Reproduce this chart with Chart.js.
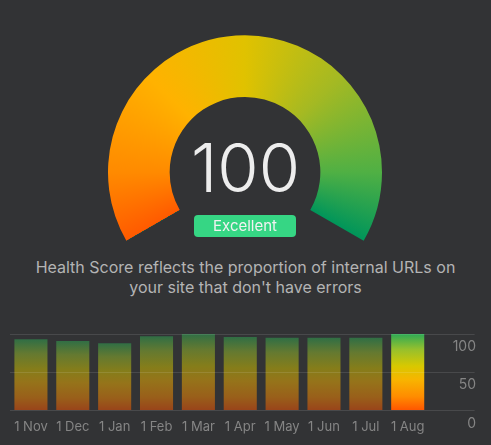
<!DOCTYPE html>
<html>
<head>
<meta charset="utf-8">
<script src="https://cdn.jsdelivr.net/npm/chart.js@4.4.1/dist/chart.umd.min.js"></script>
<style>
  html, body { margin: 0; padding: 0; background: #323335; }
  body { position: relative; width: 491px; height: 445px; overflow: hidden; font-family: Inter, "Noto Sans", sans-serif; }
  #gauge { position: absolute; left: 108px; top: 35px; }
  #score { position: absolute; left: 0; width: 491px; top: 134px; height: 67px; line-height: 67px; text-align: center;
           font-size: 67px; font-weight: 300; color: #ededed; }
  #badge { position: absolute; left: 194px; top: 215px; width: 102px; height: 22px; line-height: 22px; border-radius: 4px;
           background: #36d684; color: #f2f2f2; font-size: 15px; text-align: center; }
  #desc { position: absolute; left: 0; width: 491px; top: 257px; line-height: 20px; font-size: 16px; color: #b4b4b4; text-align: center; }
  #bars { position: absolute; left: 0; top: 320px; }
</style>
</head>
<body>
<canvas id="gauge" width="274" height="206"></canvas>
<div id="score"></div>
<div id="badge"></div>
<div id="desc">Health Score reflects the proportion of internal URLs on<br>your site that don't have errors</div>
<canvas id="bars" width="491" height="125"></canvas>
<script>
// Datos
const score = 100;
const scoreLabel = 'Excellent';
const months = ['1 Nov', '1 Dec', '1 Jan', '1 Feb', '1 Mar', '1 Apr', '1 May', '1 Jun', '1 Jul', '1 Aug'];
const history = [93, 91, 88, 97, 100, 96, 95, 95, 95, 100];
const yTicks = [0, 50, 100];

Chart.defaults.font.family = 'Inter, "Noto Sans", sans-serif';

document.getElementById('score').textContent = score;
document.getElementById('badge').textContent = scoreLabel;

// Gauge
function gaugeColor(context) {
    if (context.dataIndex !== 0) return '#4a4b4e';
    const chart = context.chart;
    const area = chart.chartArea;
    if (!area) return '#e0c000';
    const ctrl = chart.getDatasetMeta(0).controller;
    const cx = (area.left + area.right) / 2 + (ctrl.offsetX || 0);
    const cy = (area.top + area.bottom) / 2 + (ctrl.offsetY || 0);
    const g = chart.ctx.createConicGradient(Math.PI * 5 / 6, cx, cy);
    g.addColorStop(0, '#ff5a00');
    g.addColorStop(0.083, '#ff8a00');
    g.addColorStop(0.208, '#ffb200');
    g.addColorStop(0.333, '#e0c200');
    g.addColorStop(0.458, '#a4b923');
    g.addColorStop(0.583, '#50b044');
    g.addColorStop(0.667, '#00955a');
    g.addColorStop(1, '#00955a');
    return g;
}

new Chart(document.getElementById('gauge'), {
    type: 'doughnut',
    data: {
        datasets: [{
            data: [score, 100 - score],
            backgroundColor: gaugeColor,
            borderWidth: 0
        }]
    },
    options: {
        responsive: false,
        animation: false,
        rotation: -120,
        circumference: 240,
        cutout: '55%',
        plugins: { legend: { display: false }, tooltip: { enabled: false } }
    }
});

// Historial
function barGradient(context) {
    const chart = context.chart;
    if (!chart.chartArea) return '#888';
    const y = chart.scales.y;
    const top = y.getPixelForValue(context.raw);
    const bottom = y.getPixelForValue(0);
    const a = context.dataIndex === history.length - 1 ? 1 : 0.5;
    const g = chart.ctx.createLinearGradient(0, top, 0, bottom);
    g.addColorStop(0, `rgba(46,170,85,${a})`);
    g.addColorStop(0.2, `rgba(150,192,45,${a})`);
    g.addColorStop(0.42, `rgba(216,200,0,${a})`);
    g.addColorStop(0.6, `rgba(248,180,0,${a})`);
    g.addColorStop(0.82, `rgba(255,140,0,${a})`);
    g.addColorStop(1, `rgba(255,85,0,${a})`);
    return g;
}

new Chart(document.getElementById('bars'), {
    type: 'bar',
    data: {
        labels: months,
        datasets: [{
            data: history,
            backgroundColor: barGradient,
            borderWidth: 0,
            barPercentage: 0.79,
            categoryPercentage: 1
        }]
    },
    options: {
        responsive: false,
        animation: false,
        layout: { padding: { top: 14, bottom: 1, left: 10, right: 15 } },
        scales: {
            x: {
                grid: { display: false, drawTicks: false },
                border: { display: false },
                ticks: { color: '#858585', font: { size: 13 }, padding: 9, maxRotation: 0, autoSkip: false }
            },
            y: {
                position: 'right',
                min: 0,
                max: 100,
                afterBuildTicks: axis => { axis.ticks = yTicks.map(v => ({ value: v })); },
                grid: { color: 'rgba(255,255,255,0.11)', tickLength: 46, z: 1 },
                border: { display: false },
                ticks: { color: '#858585', font: { size: 14 }, padding: -11, labelOffset: 13, crossAlign: 'far' }
            }
        },
        plugins: { legend: { display: false }, tooltip: { enabled: false } }
    }
});
</script>
</body>
</html>
